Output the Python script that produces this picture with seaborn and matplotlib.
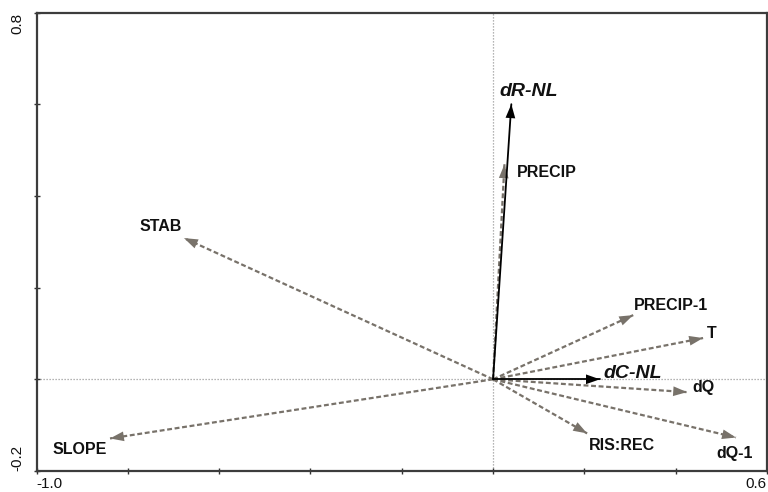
import matplotlib
matplotlib.use("Agg")
import matplotlib.pyplot as plt
import pandas as pd
import seaborn as sns

# Response variables (solid black arrows)
response_names = ["dR-NL", "dC-NL"]
response_x = [0.040, 0.234]
response_y = [0.600, 0.000]

# Explanatory variables (dashed grey arrows)
explan_names = ["PRECIP", "STAB", "SLOPE", "PRECIP-1", "T", "dQ", "dQ-1", "RIS:REC"]
explan_x = [0.025, -0.677, -0.839, 0.307, 0.460, 0.425, 0.532, 0.206]
explan_y = [0.469, 0.308, -0.129, 0.140, 0.090, -0.028, -0.127, -0.118]

x_ticks = [-1.0, -0.8, -0.6, -0.4, -0.2, 0.0, 0.2, 0.4, 0.6]
x_tick_labels = ["-1.0", "", "", "", "", "", "", "", "0.6"]
y_ticks = [-0.2, 0.0, 0.2, 0.4, 0.6, 0.8]
y_tick_labels = ["-0.2", "", "", "", "", "0.8"]

sns.set_theme(style="white")
plt.rcParams["font.family"] = ["Liberation Sans", "DejaVu Sans"]

DPI = 100
fig = plt.figure(figsize=(7.68, 4.92), dpi=DPI)
ax = fig.add_axes([36.5 / 768, 21 / 492, 730.5 / 768, 458.5 / 492])

GREY = "#78726a"
TEXT = "#111111"


def segments(names, xs, ys):
    rows = []
    for n, x, y in zip(names, xs, ys):
        rows.append({"name": n, "x": 0.0, "y": 0.0})
        rows.append({"name": n, "x": x, "y": y})
    return pd.DataFrame(rows)


# reference lines through the origin
ax.axhline(0, color="#9c9c9c", lw=0.9, ls=(0, (1, 1.4)), zorder=0.5)
ax.axvline(0, color="#9c9c9c", lw=0.9, ls=(0, (1, 1.4)), zorder=0.5)

# arrow shafts
sns.lineplot(data=segments(explan_names, explan_x, explan_y), x="x", y="y",
             units="name", estimator=None, sort=False, legend=False,
             color=GREY, lw=1.6, linestyle=(0, (2.2, 1.2)), ax=ax, zorder=2)
sns.lineplot(data=segments(response_names, response_x, response_y), x="x", y="y",
             units="name", estimator=None, sort=False, legend=False,
             color="black", lw=1.3, ax=ax, zorder=3)

# arrow heads
head = "-|>,head_length=1.0,head_width=0.35"
for xs, ys, col, z in [(explan_x, explan_y, GREY, 2.5), (response_x, response_y, "black", 3.5)]:
    for x, y in zip(xs, ys):
        ax.annotate("", xy=(x, y), xytext=(0, 0),
                    arrowprops=dict(arrowstyle=head, mutation_scale=10, color=col,
                                    lw=0, shrinkA=0, shrinkB=0),
                    zorder=z)

# labels, offset from the arrow tips (pixels right, pixels up)
px = 72 / DPI
explan_offsets = {
    "PRECIP": (42, -8), "STAB": (-23, 12), "SLOPE": (-30, -11),
    "PRECIP-1": (38, 10), "T": (9, 5), "dQ": (16, 5),
    "dQ-1": (-1, -16), "RIS:REC": (35, -12),
}
response_offsets = {"dR-NL": (17, 13), "dC-NL": (33, 6)}

for n, x, y in zip(explan_names, explan_x, explan_y):
    dx, dy = explan_offsets[n]
    ax.annotate(n, xy=(x, y), xytext=(dx * px, dy * px), textcoords="offset points",
                ha="center", va="center", fontsize=11.5, fontweight="bold", color=TEXT)
for n, x, y in zip(response_names, response_x, response_y):
    dx, dy = response_offsets[n]
    ax.annotate(n, xy=(x, y), xytext=(dx * px, dy * px), textcoords="offset points",
                ha="center", va="center", fontsize=14, fontweight="bold",
                fontstyle="italic", color=TEXT)

ax.set_xlim(-1.0, 0.6)
ax.set_ylim(-0.2, 0.8)
ax.set_xticks(x_ticks)
ax.set_xticklabels(x_tick_labels)
ax.set_yticks(y_ticks)
ax.set_yticklabels(y_tick_labels, rotation=90)
ax.set_xlabel("")
ax.set_ylabel("")

ax.tick_params(axis="both", which="both", direction="inout", length=5, width=1.0,
               color="#333333", labelsize=11, labelcolor=TEXT,
               bottom=True, left=True, top=False, right=False)
ax.tick_params(axis="x", pad=1.5)
ax.tick_params(axis="y", pad=6)

xl = ax.get_xticklabels()
xl[0].set_ha("left")
xl[-1].set_ha("right")
yl = ax.get_yticklabels()
yl[0].set_va("bottom")
yl[-1].set_va("top")

for s in ax.spines.values():
    s.set_color("#3c3c3c")
    s.set_linewidth(1.6)

fig.savefig("out.png", dpi=DPI)
